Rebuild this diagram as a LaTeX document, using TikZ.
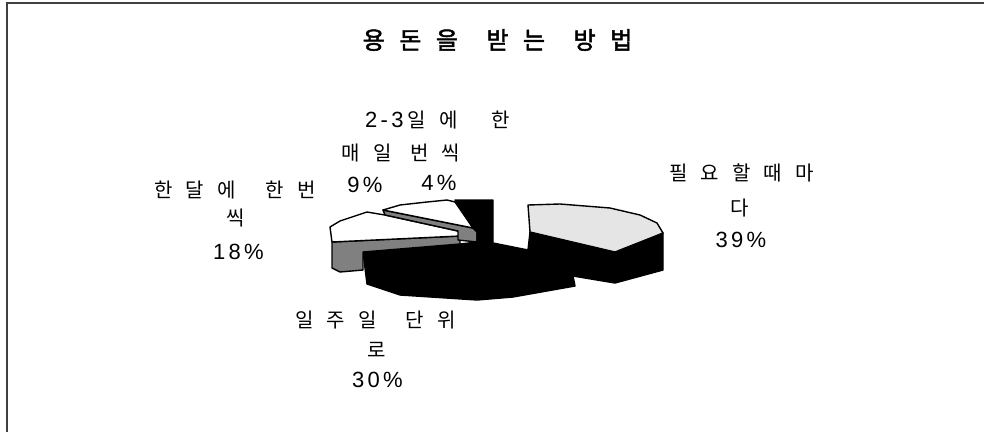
\documentclass[tikz,border=0pt]{standalone}
\usepackage{fontspec}
\setmainfont{Liberation Sans}
\newfontfamily\krfont{Noto Sans CJK KR}
\newfontfamily\krtitle{Noto Sans CJK KR}[FakeBold=2]
\newfontfamily\numfont{Liberation Sans}[LetterSpace=15]
\newcommand\nm[1]{{\numfont\fontsize{22}{24}\selectfont #1}}
\newcommand\kgap{\hspace{13pt}}
\newcommand\kw[1]{\hspace{#1pt}}

\tikzset{
  lbl/.style={inner sep=0pt, font=\krfont\fontsize{20}{24}\selectfont},
  pct/.style={inner sep=0pt, font=\numfont\fontsize{22}{24}\selectfont},
  rim/.style={draw=black, line width=1.4pt, line join=round},
  lightface/.style={rim, fill=black!10},
  greyface/.style={rim, fill=black!50},
  darkface/.style={rim, fill=black},
  whiteface/.style={rim, fill=white},
}

\begin{document}
\begin{tikzpicture}[x=1pt,y=-1pt]
  \useasboundingbox (0,0) rectangle (984,432);
  \draw[black!75, line width=1.2pt] (7,432) -- (7,3) -- (984,3); % frame
  \node[inner sep=0pt, font=\krtitle\fontsize{24}{28}\selectfont] (title) at (497.5,40)
    {용\kw{14.5}돈\kw{14.5}을\kw{28.5}받\kw{14.5}는\kw{28.5}방\kw{14.5}법};
  % 30% slice
  \path[darkface] (363,252) -- (460,244) -- (477,242) -- (493,243) -- (528,250) -- (573,276) -- (575,286) -- (513,297) -- (477,300) -- (400,295) -- (367,284) -- cycle;
  % 18% slice
  \path[greyface] (332,242) -- (460,236) -- (460,244) -- (363,252) -- (363,270) -- (340,272) -- (332,268) -- cycle;
  \path[whiteface] (330,227) -- (340,221) -- (367,212) -- (385,215) -- (458,231) -- (460,236) -- (332,242) -- cycle;
  % 9% slice
  \path[greyface] (383,210) -- (473,228) -- (477,232) -- (477,242) -- (458,240) -- (458,231) -- (385,215) -- cycle;
  \path[whiteface] (383,210) -- (400,205) -- (427,202) -- (447,200) -- (455,202) -- (473,228) -- cycle;
  % 4% slice
  \path[darkface] (455,200) -- (493,200) -- (493,243) -- (477,242) -- (477,232) -- (473,228) -- cycle;
  % 39% slice
  \path[darkface] (530,232) -- (615,252) -- (663,233) -- (663,270) -- (615,283) -- (573,276) -- (528,250) -- cycle;
  \path[lightface] (528,205) -- (560,204) -- (610,208) -- (640,215) -- (657,223) -- (663,233) -- (615,252) -- (530,232) -- cycle;
  % labels
  \node[lbl] (needA) at (741.5,173) {필\kgap 요\kgap 할\kgap 때\kgap 마};
  \node[lbl] (needB) at (740,208) {다};
  \node[pct] (needP) at (741,240) {39\%};
  \node[lbl] (twoA) at (437.5,120) {\nm{2-3}\kw{4}일\kgap 에\kw{34}한};
  \node[lbl] (dailyA) at (401,153) {매\kgap 일\kw{19}번\kgap 씩};
  \node[pct] (dailyP) at (365,185) {9\%};
  \node[pct] (twoP) at (439,183) {4\%};
  \node[lbl] (monA) at (235,190) {한\kgap 달\kgap 에\kw{30}한\kgap 번};
  \node[lbl] (monB) at (236,218) {씩};
  \node[pct] (monP) at (238.5,252) {18\%};
  \node[lbl] (weekA) at (375.5,320) {일\kgap 주\kgap 일\kw{29}단\kgap 위};
  \node[lbl] (weekB) at (377,350) {로};
  \node[pct] (weekP) at (377.5,380) {30\%};
\end{tikzpicture}
\end{document}
